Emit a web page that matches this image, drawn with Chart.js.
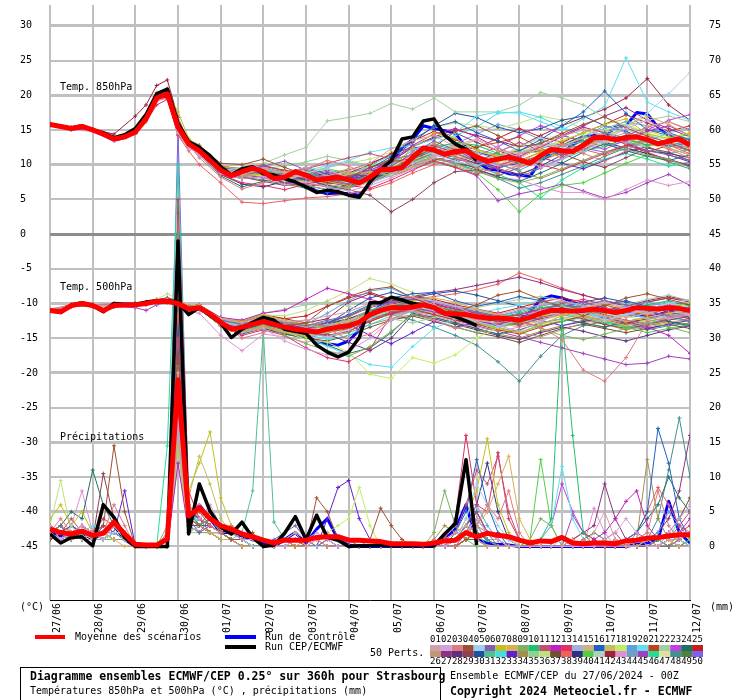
<!DOCTYPE html>
<html>
<head>
<meta charset="utf-8">
<script src="https://cdn.jsdelivr.net/npm/chart.js@4.4.1/dist/chart.umd.min.js"></script>
<style>
  html, body { margin: 0; padding: 0; background: #fff; }
  canvas { display: block; }
</style>
</head>
<body>
<canvas id="chart" width="740" height="700"></canvas>
<script>
// time axis (hours after 27/06/2024 00Z)
const dayLabels = ["27/06","28/06","29/06","30/06","01/07","02/07","03/07","04/07","05/07","06/07","07/07","08/07","09/07","10/07","11/07","12/07"];
const dayHours = [0,24,48,72,96,120,144,168,192,216,240,264,288,312,336,360];
const hours6 = [0,6,12,18,24,30,36,42,48,54,60,66,72,78,84,90,96,102,108,114,120,126,132,138,144,150,156,162,168,174,180,186,192,198,204,210,216,222,228,234,240,246,252,258,264,270,276,282,288,294,300,306,312,318,324,330,336,342,348,354,360];
const memberHours = [0,12,24,36,48,54,60,66,72,78,84,96,108,120,132,144,156,168,180,192,204,216,228,240,252,264,276,288,300,312,324,336,348,360];
const leftTicks = [-45,-40,-35,-30,-25,-20,-15,-10,-5,0,5,10,15,20,25,30];
const rightTicks = [0,5,10,15,20,25,30,35,40,45,50,55,60,65,70,75];

// ensemble mean, control run, operational run (6h steps)
const t850Mean = [15.8,15.5,15.2,15.5,15.0,14.4,13.7,14.0,14.7,16.6,19.6,20.2,15.4,13.0,12.0,10.6,9.2,8.4,9.0,9.5,9.0,8.0,8.2,9.0,8.5,7.8,8.0,8.2,7.8,7.4,8.2,9.3,9.3,9.6,11.0,12.4,12.1,11.5,11.9,12.0,11.1,10.5,10.8,11.1,10.7,10.2,11.3,12.2,12.0,11.9,12.8,13.9,13.9,13.6,13.9,14.0,13.6,13.0,13.4,13.7,12.8];
const t850Oper = [15.8,15.5,15.3,15.6,15.0,14.6,13.9,14.3,15.2,17.2,20.2,20.9,16.0,13.3,12.5,11.3,9.7,8.5,9.4,9.7,8.7,8.5,8.0,7.5,6.8,6.0,6.3,6.1,5.6,5.3,7.5,9.3,10.6,13.7,14.0,16.3,16.6,14.2,13.0,12.2,10.6];
const t850Control = [15.8,15.6,15.2,15.5,15.0,14.3,13.5,13.9,14.8,16.8,19.8,20.4,15.2,13.0,12.2,10.8,9.5,8.6,9.1,9.3,8.4,8.0,7.8,7.3,7.0,6.2,5.8,5.9,5.8,5.6,7.2,8.8,10.2,12.5,13.6,15.6,15.2,14.9,14.5,12.5,10.5,9.4,9.2,8.7,8.5,8.3,10.5,11.6,11.8,12.8,14.0,14.2,14.0,15.4,15.6,17.5,17.3,15.4,14.2,13.6,13.4];
const t500Mean = [-11.0,-11.2,-10.3,-10.0,-10.3,-11.0,-10.3,-10.2,-10.2,-10.0,-9.7,-9.7,-10.0,-10.8,-10.6,-11.5,-12.7,-13.7,-13.4,-13.0,-12.6,-13.0,-13.4,-13.7,-13.9,-14.1,-13.7,-13.4,-13.2,-12.7,-11.6,-11.0,-10.6,-10.6,-10.5,-10.2,-10.6,-11.4,-11.5,-11.6,-11.9,-12.1,-12.1,-12.2,-12.4,-12.0,-11.4,-11.0,-11.0,-11.1,-11.0,-10.8,-11.0,-11.3,-11.0,-10.6,-10.7,-10.8,-10.6,-10.7,-11.0];
const t500Oper = [-11.0,-11.3,-10.2,-9.9,-10.3,-11.2,-10.0,-10.1,-10.1,-9.8,-9.6,-9.6,-9.8,-11.6,-10.6,-11.7,-12.8,-14.9,-13.7,-12.7,-12.0,-12.4,-13.7,-14.0,-14.3,-16.0,-17.0,-17.7,-17.0,-14.9,-9.9,-9.9,-9.1,-9.5,-10.0,-10.2,-10.6,-11.4,-11.9,-12.5,-13.2];
const t500Control = [-11.0,-11.1,-10.4,-10.0,-10.4,-11.0,-10.4,-10.2,-10.2,-9.9,-9.7,-9.6,-10.2,-11.0,-10.8,-11.6,-12.5,-13.5,-13.0,-12.8,-12.2,-12.8,-13.5,-14.2,-14.6,-15.5,-15.8,-16.0,-15.4,-13.8,-11.5,-10.3,-9.8,-10.0,-10.2,-10.4,-11.0,-11.6,-12.2,-12.6,-12.8,-13.0,-13.2,-13.0,-12.6,-11.2,-9.4,-8.9,-9.2,-9.8,-10.4,-11.0,-11.2,-11.0,-11.4,-11.7,-11.8,-11.6,-11.2,-10.8,-11.0];
const precipMean = [2.5,2.0,1.8,2.2,1.6,1.9,3.5,1.8,0.3,0.2,0.2,1.1,24,4.4,5.6,4.0,3.0,2.5,1.8,1.4,0.9,0.5,0.9,0.9,0.9,1.3,1.4,1.4,0.9,0.9,0.8,0.7,0.4,0.4,0.4,0.3,0.5,0.8,0.9,2.0,1.4,1.9,1.6,1.4,0.9,0.5,0.8,0.7,1.3,0.5,0.4,0.5,0.5,0.4,0.8,0.9,1.2,1.3,1.5,1.7,1.7];
const precipOper = [1.8,0.5,1.3,1.4,0.1,6.0,4.2,1.3,0,0,0,0,44,1.8,9.0,5.1,2.8,1.8,3.5,1.3,0,0.2,1.9,4.3,1.0,4.5,1.3,0.9,0,0.1,0.1,0.2,0.1,0.1,0.1,0.1,0.1,1.8,3.3,12.5,0.2];
const precipControl = [2.0,1.5,1.5,2.0,1.0,2.0,3.0,1.0,0,0,0,1.0,30,3.0,6.0,4.0,2.0,2.0,1.5,1.0,0.5,0,1.0,2.0,0.5,2.5,4.0,1.0,0.2,0,0,0,0,0,0,0,0,1.0,2.5,6.0,1.0,0.5,0.3,0.2,0,0,0,0,0,0,0,0,0,0,0,0.3,0.5,1.0,6.5,2.0,0.5];

// the 50 perturbed members
const memberColors = ["#d4a0a8","#d0a0e0","#e07880","#a05030","#a0d0f0","#8060b0","#c0c020","#d8b050","#80b060","#20c070","#c05070","#c020c0","#e03060","#a0b0e0","#d0b080","#2060c0","#c0c060","#c0f060","#60a0e0","#60e0f0","#c04020","#a0d0a0","#c040e0","#207060","#c02020",
  "#c09878","#903080","#603080","#904050","#2050a0","#50c090","#40e0e0","#6020d0","#a09050","#90d090","#c0e080","#705030","#f06060","#303080","#50d040","#b0d0c0","#a02040","#e090d0","#70a0c0","#a040c0","#20e090","#e0e0a0","#409090","#508040","#8060f0"];

const t850Perts = [
  [15.9,15.3,15.2,13.9,14.9,17.2,20.4,21.0,16.5,13.4,12.3,9.5,8.6,9.4,8.8,9.6,8.4,9.1,10.2,12.3,13.5,14.2,12.6,10.8,9.9,11.5,12.7,14.1,15.0,14.2,13.1,15.5,16.2,14.8],
  [15.6,15.0,14.8,13.4,14.4,16.2,19.1,20.0,14.9,12.6,11.4,8.7,8.0,8.3,7.1,7.5,6.8,6.2,7.0,8.1,9.4,11.0,12.8,13.7,12.5,10.9,9.6,10.8,12.4,13.5,15.2,16.4,14.6,12.9],
  [16.0,15.4,15.1,13.8,15.0,16.9,19.9,20.6,15.8,12.9,11.0,8.2,6.5,7.4,8.6,9.4,10.6,9.8,8.4,9.0,11.8,13.0,11.2,9.5,8.8,9.9,11.4,12.8,11.6,10.5,12.0,13.6,12.2,11.0],
  [15.7,15.1,15.0,13.6,14.6,16.4,19.5,20.3,16.0,13.5,12.6,10.2,10.0,10.8,9.6,8.5,7.4,8.2,9.6,10.4,10.9,12.5,14.8,15.6,14.2,12.6,13.0,14.5,15.8,16.9,15.3,14.1,13.2,12.0],
  [15.8,15.2,14.9,13.5,14.5,16.3,19.2,19.8,14.6,12.4,11.8,9.0,9.6,8.8,7.6,8.8,9.4,8.0,7.2,8.6,10.2,11.6,10.5,9.8,11.0,12.6,13.9,12.4,11.8,13.4,15.6,17.4,20.2,23.3],
  [15.9,15.3,15.1,13.8,14.8,16.8,19.8,20.4,15.2,13.2,12.2,9.4,8.8,9.8,10.5,9.2,8.0,7.2,7.9,9.8,11.6,13.4,12.1,10.6,9.4,8.2,9.5,11.0,12.9,14.4,13.2,12.0,11.4,10.6],
  [15.6,15.1,15.0,13.7,14.6,16.5,19.6,20.4,17.6,13.8,12.4,9.8,9.2,8.4,8.0,8.6,7.5,7.0,8.4,9.6,12.4,14.6,13.8,12.0,11.2,10.4,11.8,13.4,14.6,15.8,16.6,14.4,13.8,14.6],
  [15.8,15.2,15.0,13.6,14.7,16.7,19.7,20.0,15.0,12.8,12.0,9.2,8.5,8.6,9.0,8.2,7.8,8.6,9.0,8.4,9.6,11.2,12.4,13.6,12.0,11.6,12.2,11.0,12.5,13.8,15.6,17.0,15.8,14.2],
  [15.7,15.2,15.0,13.8,14.7,16.4,19.3,19.9,15.0,12.7,11.8,8.8,8.2,8.8,7.8,7.0,6.4,6.8,7.6,8.8,10.4,11.0,10.2,9.0,8.0,7.4,8.2,9.4,10.6,11.8,12.2,11.4,10.8,9.6],
  [15.9,15.3,15.1,13.9,14.9,16.9,20.0,20.6,15.6,13.1,12.1,9.0,8.8,9.2,8.6,8.8,8.2,7.6,8.0,9.4,10.8,12.4,13.2,12.8,11.6,10.2,10.8,12.0,13.4,14.6,13.8,12.8,13.6,14.4],
  [15.8,15.2,15.0,13.6,14.6,16.6,19.6,20.3,15.8,13.2,12.3,9.6,9.4,10.0,9.0,9.4,10.2,11.0,11.6,10.8,11.4,12.8,11.6,10.4,11.8,13.2,12.0,11.4,12.2,13.6,14.2,15.4,16.2,15.0],
  [15.8,15.1,14.9,13.6,14.6,16.4,19.4,20.1,15.4,13.0,12.0,9.0,8.4,9.0,8.4,8.0,7.6,8.4,9.2,10.6,12.8,14.4,15.2,14.0,12.4,11.2,12.6,14.0,15.4,14.6,13.4,14.8,15.6,14.2],
  [15.7,15.0,14.9,13.5,14.4,16.2,18.6,19.4,14.4,12.4,11.6,8.6,7.4,7.0,6.4,7.2,7.8,7.0,6.6,7.8,9.2,10.6,9.6,8.6,9.8,11.0,10.0,9.2,10.4,11.6,12.8,11.8,10.6,10.0],
  [15.9,15.4,15.2,13.8,14.9,17.0,20.1,20.6,16.2,13.4,12.4,9.4,9.0,9.6,8.2,8.6,9.6,10.4,9.2,10.0,11.4,11.8,12.2,11.8,10.6,11.6,13.0,12.6,13.4,14.8,15.6,14.4,13.0,12.6],
  [15.8,15.2,15.0,13.7,14.8,16.6,19.5,20.0,14.8,12.6,11.6,8.8,9.2,9.6,8.8,8.0,7.2,6.6,7.4,8.4,9.8,11.4,12.6,11.4,10.2,9.6,10.4,11.8,12.2,13.2,14.0,13.4,12.4,11.4],
  [15.7,15.1,14.9,13.6,14.5,16.5,19.7,20.5,15.5,13.2,12.2,9.6,9.0,8.6,8.8,9.6,8.6,8.0,9.4,11.2,13.6,15.4,16.2,14.6,13.4,12.0,13.6,15.6,17.6,20.6,17.4,15.0,14.6,13.6],
  [15.8,15.3,15.0,13.8,14.7,16.7,19.8,20.2,15.2,12.9,11.9,9.1,8.7,9.4,7.8,7.4,8.2,8.8,8.6,9.2,10.6,11.8,11.2,10.6,11.4,12.2,11.6,12.8,13.8,14.2,13.6,12.6,13.2,12.4],
  [15.8,15.2,15.1,13.7,14.6,16.6,19.4,20.0,14.6,12.8,11.8,9.0,8.6,8.4,8.0,8.4,7.6,7.4,8.0,9.6,11.2,13.2,12.4,11.2,10.4,11.0,12.4,13.6,14.4,15.0,15.8,14.6,13.6,14.0],
  [15.9,15.3,15.1,13.8,14.9,16.8,19.9,20.5,15.6,13.1,12.1,9.3,8.8,9.2,8.4,8.8,7.8,7.2,8.6,10.2,12.0,13.0,12.0,11.0,10.0,9.2,10.6,12.4,14.0,15.6,14.6,13.2,12.6,13.8],
  [15.6,15.1,14.9,13.5,14.5,16.3,19.2,19.9,15.0,12.8,11.8,9.0,8.4,9.0,8.6,9.2,9.8,10.6,11.8,12.4,12.8,13.6,14.6,17.0,17.6,17.4,16.2,15.0,16.6,18.4,25.4,19.0,17.6,16.4],
  [15.8,15.2,15.0,13.7,14.7,16.5,19.4,20.0,15.2,12.8,11.8,8.8,8.0,8.4,7.4,6.8,7.4,8.0,9.6,10.8,9.8,10.6,11.4,12.6,13.2,14.0,12.4,11.0,12.6,14.2,13.0,11.8,12.8,13.4],
  [15.8,15.2,15.0,13.7,14.7,16.6,19.6,20.3,15.5,13.0,12.0,9.4,9.6,10.2,11.4,12.5,16.3,16.8,17.4,18.8,18.0,19.6,17.6,17.6,17.6,18.6,20.4,19.6,18.6,16.8,15.6,16.4,17.0,16.2],
  [15.9,15.3,15.1,13.8,14.8,16.8,19.8,20.4,15.4,13.2,12.2,9.4,8.8,8.2,7.6,8.4,9.0,8.2,7.4,8.6,10.0,11.0,10.4,11.2,12.6,14.2,15.6,14.4,13.0,12.2,13.6,15.0,16.4,17.2],
  [15.7,15.1,14.9,13.5,14.5,16.3,19.3,19.9,14.8,12.6,11.4,8.4,6.8,7.6,8.2,7.8,7.0,6.6,7.8,9.0,10.2,11.6,10.6,9.4,8.2,7.6,8.8,10.2,11.8,13.0,12.0,11.2,10.6,11.4],
  [15.8,15.2,15.0,13.7,14.7,16.6,19.7,20.4,15.6,13.0,12.0,9.2,9.0,9.8,9.2,8.6,8.0,8.8,10.0,11.6,13.4,14.8,13.6,12.4,13.8,15.2,14.0,13.2,14.6,15.8,17.2,16.0,14.8,15.6],
  [15.9,15.3,15.1,13.9,14.8,16.7,19.8,20.3,15.2,12.9,12.0,9.0,8.4,8.8,8.0,7.6,8.6,9.4,8.8,9.8,11.6,12.2,11.6,10.8,10.0,10.6,11.2,12.2,12.8,13.6,14.6,13.8,12.8,12.2],
  [15.8,15.2,15.0,13.6,14.6,16.5,19.5,20.2,15.6,13.2,12.2,9.4,9.2,9.6,8.8,8.2,7.6,7.8,8.6,10.4,12.6,13.8,14.6,13.2,12.0,11.0,12.4,14.2,15.6,17.0,18.2,16.4,15.2,14.0],
  [15.7,15.1,15.0,13.6,14.6,16.4,19.4,20.0,15.0,12.8,11.8,9.0,8.8,9.0,8.4,8.0,7.4,7.0,7.8,9.4,11.0,12.0,11.2,10.2,9.4,8.6,9.8,11.4,12.6,13.8,13.0,12.0,11.6,11.0],
  [15.8,15.2,15.0,13.7,14.7,16.6,19.6,20.2,15.4,13.0,11.8,8.8,8.2,7.6,7.0,7.4,6.8,6.4,5.6,3.2,5.0,7.4,9.0,9.2,8.4,9.6,10.8,11.6,10.4,9.6,11.0,12.4,11.8,10.6],
  [15.8,15.3,15.1,13.8,14.8,16.7,19.7,20.4,15.6,13.2,12.2,9.4,8.6,8.2,7.4,7.0,6.4,7.2,8.8,11.0,13.2,15.6,17.4,16.8,15.4,14.6,15.2,16.4,17.0,15.6,14.8,13.6,12.6,13.2],
  [15.8,15.2,15.0,13.6,14.6,16.5,19.5,20.1,15.2,12.9,11.9,9.1,8.8,8.6,8.0,8.4,8.0,7.6,8.2,9.0,10.0,11.2,11.8,10.4,9.4,8.6,9.6,10.8,12.0,12.6,13.4,12.4,11.6,12.2],
  [15.9,15.3,15.1,13.8,14.8,16.8,19.9,20.6,15.8,13.4,12.4,9.6,9.4,9.8,9.0,8.4,7.8,8.6,9.8,11.4,12.2,13.0,14.2,15.4,17.4,17.6,16.8,15.4,14.2,13.0,12.2,13.4,14.6,15.2],
  [15.7,15.1,14.9,13.5,14.5,16.3,19.2,19.8,14.6,12.6,11.6,8.6,8.0,8.4,8.8,9.4,8.6,8.0,8.8,10.6,12.4,12.8,11.6,10.6,9.6,10.2,11.0,10.2,9.4,10.6,11.8,12.6,11.4,10.4],
  [15.8,15.2,15.0,13.7,14.7,16.6,19.5,20.1,15.0,12.8,11.8,9.0,8.6,8.8,8.2,7.8,7.2,7.6,8.4,9.2,10.4,11.6,12.4,11.4,10.2,9.0,8.0,9.2,10.6,11.8,12.8,13.6,12.4,11.4],
  [15.8,15.2,15.0,13.7,14.8,16.7,19.8,20.3,15.4,13.0,12.0,9.2,8.8,9.4,9.8,10.4,11.2,10.6,9.8,10.4,11.6,12.6,13.0,12.2,11.4,10.8,9.8,10.8,12.0,13.0,14.0,13.2,12.6,13.0],
  [15.9,15.3,15.1,13.8,14.9,16.9,20.1,20.7,16.4,13.6,12.6,9.6,9.2,8.8,8.4,9.0,9.6,10.2,10.8,11.8,13.6,15.4,16.0,15.6,15.2,16.0,17.0,16.4,15.2,14.6,15.4,14.8,14.0,13.4],
  [15.8,15.2,15.0,13.6,14.6,16.4,19.4,20.0,15.6,13.6,12.8,9.8,9.4,9.0,8.6,8.0,7.4,8.2,9.0,10.0,11.4,11.0,10.2,9.6,10.8,11.6,12.0,12.6,13.4,14.2,13.6,12.8,13.0,12.4],
  [15.8,15.2,15.0,13.7,14.6,16.4,19.2,19.6,14.2,12.0,10.0,7.4,4.6,4.4,4.8,5.2,5.4,5.8,6.4,7.4,8.8,10.0,10.8,10.2,9.4,10.6,11.8,13.0,12.2,11.4,12.6,13.8,12.8,11.6],
  [15.7,15.1,15.0,13.6,14.5,16.4,19.4,20.0,14.8,12.6,11.6,8.6,7.2,6.8,7.6,8.2,8.8,8.2,7.8,9.0,10.6,11.6,12.6,11.8,11.0,10.2,11.4,12.8,14.2,13.2,12.4,11.6,10.8,9.8],
  [15.8,15.2,15.0,13.7,14.7,16.6,19.6,20.2,15.2,12.9,11.9,9.0,8.4,8.6,8.2,9.0,9.4,8.8,8.0,8.6,9.6,10.4,9.8,8.8,6.4,3.2,5.8,7.0,7.4,8.8,10.2,11.4,10.6,9.8],
  [15.8,15.2,15.0,13.7,14.7,16.6,19.7,20.3,15.4,13.0,12.0,9.2,9.0,9.2,8.8,8.6,8.2,8.6,9.2,10.0,11.0,12.2,12.6,11.8,11.2,11.8,12.6,13.2,13.8,14.4,15.0,14.2,13.6,13.0],
  [15.8,15.3,15.1,14.4,17.0,18.6,21.4,22.2,16.8,13.2,12.2,9.4,9.0,9.4,8.6,8.2,8.6,9.2,10.2,11.4,12.6,14.0,15.0,14.2,13.4,12.6,14.2,15.6,16.8,18.0,19.6,22.4,18.6,16.4],
  [15.7,15.1,14.9,13.5,14.5,16.3,19.3,19.9,14.8,12.6,11.6,8.8,8.4,8.0,7.6,7.2,6.8,7.4,8.2,9.0,10.2,11.0,10.0,9.0,8.2,7.8,6.8,6.0,6.0,5.0,6.4,7.8,7.0,7.6],
  [15.8,15.2,15.0,13.7,14.7,16.6,19.6,20.2,15.4,13.0,12.0,9.2,8.6,8.2,7.8,8.2,7.6,7.0,7.6,8.8,10.4,11.8,13.0,14.4,15.8,15.0,13.6,12.6,13.8,15.2,16.2,15.6,14.4,13.6],
  [15.8,15.2,15.0,13.7,14.7,16.5,19.5,20.1,15.2,12.8,11.8,9.0,8.6,9.0,8.4,7.8,7.0,6.8,7.6,8.4,9.4,10.4,9.6,8.4,4.8,5.8,6.4,7.2,6.2,5.2,6.0,7.4,8.6,7.0],
  [15.9,15.3,15.1,13.8,14.9,16.8,19.8,20.4,15.6,13.2,12.2,9.4,9.0,9.4,9.0,8.6,8.2,8.8,9.6,10.6,11.4,12.0,11.0,9.8,8.6,7.4,5.2,7.8,9.6,10.8,11.6,10.8,9.8,10.4],
  [15.8,15.2,15.0,13.6,14.6,16.4,19.4,20.0,15.0,12.8,11.8,9.0,8.8,9.2,8.6,8.0,7.8,8.4,9.0,9.8,11.0,12.4,13.2,12.6,12.0,12.8,13.6,14.4,15.2,14.6,13.8,13.0,12.2,11.6],
  [15.8,15.2,15.0,13.7,14.7,16.6,19.6,20.2,15.4,13.0,11.8,8.8,8.2,7.8,7.2,6.6,6.0,6.8,7.6,8.6,9.8,10.8,10.2,9.2,8.0,6.6,7.4,8.6,9.8,11.2,12.4,11.6,10.4,9.4],
  [15.8,15.3,15.1,13.8,14.8,16.7,19.8,20.4,15.8,13.4,12.4,9.6,9.4,9.0,8.2,8.6,9.2,8.6,8.4,9.4,10.8,12.0,12.8,12.2,11.4,12.0,13.2,14.2,13.4,12.6,13.8,15.0,14.2,13.4],
  [15.7,15.1,14.9,13.5,14.5,16.3,19.3,19.9,14.8,12.6,11.6,8.8,8.4,8.8,8.0,7.6,7.2,7.8,8.6,9.6,10.6,11.4,10.8,10.2,10.8,11.6,12.4,13.0,12.4,11.8,12.6,13.4,12.8,12.0]
];

const t500Perts = [
  [-11.0,-10.2,-10.4,-10.2,-10.0,-9.8,-9.6,-9.6,-9.8,-10.6,-10.4,-12.2,-12.8,-11.8,-12.6,-12.4,-11.8,-11.2,-10.0,-9.2,-9.0,-10.2,-11.6,-12.4,-11.6,-10.8,-10.2,-9.6,-10.4,-11.2,-12.0,-11.4,-10.6,-11.8],
  [-11.2,-10.4,-10.2,-10.4,-10.4,-10.2,-9.8,-9.8,-10.2,-11.0,-10.8,-13.0,-14.2,-13.6,-15.4,-16.6,-17.4,-16.8,-15.0,-12.4,-11.0,-9.8,-10.4,-11.8,-13.2,-14.0,-12.6,-11.2,-10.6,-9.8,-10.6,-11.4,-12.2,-11.6],
  [-10.8,-10.2,-10.2,-10.0,-10.0,-9.8,-9.6,-9.4,-9.8,-10.6,-10.4,-12.6,-15.0,-14.2,-13.0,-12.4,-13.6,-15.2,-14.4,-12.2,-11.0,-12.4,-13.6,-12.8,-11.4,-12.6,-13.4,-15.2,-19.6,-21.2,-17.8,-12.6,-12.0,-11.4],
  [-11.0,-10.4,-10.4,-10.2,-10.2,-10.0,-9.8,-9.8,-10.2,-11.2,-10.8,-12.8,-13.6,-12.6,-13.2,-12.8,-10.4,-9.0,-8.0,-7.6,-9.2,-10.4,-11.2,-10.2,-8.8,-8.2,-9.4,-10.6,-11.8,-10.4,-9.2,-8.6,-9.4,-10.2],
  [-11.2,-10.4,-10.4,-10.4,-10.2,-10.0,-9.8,-9.8,-10.0,-10.8,-10.6,-12.6,-13.2,-12.4,-13.6,-14.4,-14.8,-13.8,-12.2,-10.8,-10.4,-11.0,-11.8,-12.6,-13.4,-12.2,-11.0,-10.4,-11.2,-12.4,-11.6,-10.8,-10.0,-9.4],
  [-11.0,-10.2,-10.2,-10.2,-10.0,-9.8,-9.6,-9.6,-9.8,-10.6,-10.4,-12.4,-13.0,-12.2,-12.8,-13.2,-12.4,-11.8,-10.6,-9.8,-9.4,-9.8,-10.6,-11.2,-11.8,-12.4,-11.6,-11.0,-10.2,-9.6,-10.2,-11.0,-11.8,-12.6],
  [-11.0,-10.3,-10.4,-10.4,-10.2,-10.0,-9.6,-9.4,-9.6,-10.4,-10.2,-12.2,-12.6,-11.6,-12.4,-13.0,-13.6,-12.0,-10.4,-9.4,-9.6,-10.8,-12.0,-12.8,-13.6,-14.2,-13.0,-11.8,-10.6,-10.0,-10.8,-11.6,-10.8,-9.8],
  [-11.0,-10.4,-10.2,-10.2,-10.2,-10.0,-9.8,-9.8,-10.0,-10.8,-10.8,-13.0,-14.0,-13.4,-14.2,-14.6,-13.8,-12.6,-11.4,-10.2,-9.6,-9.2,-9.8,-10.8,-11.6,-12.2,-11.2,-10.4,-11.0,-11.8,-12.6,-12.0,-11.4,-10.8],
  [-11.2,-10.4,-10.4,-10.4,-10.4,-10.2,-9.8,-9.8,-10.2,-11.0,-10.8,-13.2,-14.2,-13.0,-14.6,-15.8,-16.8,-17.6,-16.2,-14.0,-11.6,-12.4,-13.4,-14.2,-13.4,-12.6,-13.6,-14.6,-15.2,-14.4,-13.6,-12.8,-13.4,-14.2],
  [-11.0,-10.2,-10.2,-10.2,-10.0,-9.8,-9.6,-9.6,-9.8,-10.6,-10.4,-12.4,-13.2,-12.4,-12.6,-13.0,-13.4,-12.8,-11.0,-10.2,-10.0,-10.4,-11.0,-11.6,-12.0,-11.4,-10.6,-10.2,-10.8,-11.4,-10.8,-10.2,-9.6,-10.4],
  [-11.0,-10.3,-10.3,-10.2,-10.1,-9.9,-9.7,-9.7,-10.0,-10.8,-10.6,-12.8,-13.6,-12.8,-13.6,-14.2,-14.6,-14.0,-12.4,-11.2,-10.8,-10.6,-11.2,-11.8,-12.4,-13.2,-12.0,-11.4,-10.8,-11.6,-12.4,-13.0,-12.2,-11.6],
  [-11.0,-10.2,-10.2,-10.2,-10.0,-9.8,-9.6,-9.4,-9.6,-10.4,-10.2,-12.0,-12.4,-11.4,-11.0,-9.4,-7.8,-8.6,-9.4,-10.2,-10.6,-11.2,-12.0,-12.6,-13.0,-12.2,-11.0,-10.2,-10.8,-11.8,-12.6,-13.4,-14.6,-17.2],
  [-11.2,-10.4,-10.4,-10.4,-10.2,-10.0,-9.8,-9.8,-10.2,-11.0,-10.8,-13.2,-14.6,-13.8,-14.6,-16.4,-17.8,-18.4,-16.6,-11.6,-10.6,-10.2,-10.8,-11.4,-12.0,-11.6,-10.8,-10.0,-9.4,-10.2,-11.0,-11.8,-11.2,-10.6],
  [-11.0,-10.3,-10.3,-10.3,-10.1,-9.9,-9.7,-9.7,-10.0,-10.8,-10.6,-12.6,-13.4,-12.6,-13.4,-13.8,-13.2,-12.4,-11.0,-9.8,-9.2,-9.6,-10.4,-11.0,-11.6,-12.2,-12.8,-12.2,-11.4,-10.8,-11.4,-12.2,-11.8,-11.2],
  [-11.0,-10.2,-10.2,-10.2,-10.0,-9.8,-9.6,-9.6,-9.8,-10.6,-10.4,-12.4,-13.0,-12.0,-12.8,-13.4,-13.0,-12.6,-11.8,-11.0,-10.4,-10.8,-11.8,-12.4,-12.8,-13.4,-12.4,-11.6,-12.0,-12.6,-11.8,-11.0,-10.6,-11.2],
  [-11.0,-10.4,-10.4,-10.2,-10.2,-10.0,-9.8,-9.8,-10.0,-10.8,-10.6,-12.8,-13.8,-13.0,-13.8,-14.0,-12.8,-11.6,-10.2,-9.2,-8.6,-8.4,-9.6,-10.4,-9.8,-9.0,-9.6,-10.4,-11.0,-10.2,-9.6,-10.4,-11.2,-12.0],
  [-11.2,-10.4,-10.4,-10.4,-10.2,-10.0,-9.8,-9.8,-10.2,-11.0,-10.8,-13.0,-13.8,-13.2,-14.0,-14.8,-14.2,-13.0,-11.6,-10.8,-10.4,-10.8,-11.6,-12.4,-13.0,-12.6,-11.8,-11.2,-11.8,-12.4,-13.2,-12.4,-11.6,-11.0],
  [-11.0,-10.3,-10.3,-10.2,-10.1,-9.9,-9.7,-9.7,-10.0,-10.8,-10.6,-12.8,-13.6,-13.0,-14.0,-15.2,-15.6,-17.0,-20.2,-20.8,-17.8,-18.6,-17.4,-15.0,-13.4,-12.2,-13.0,-12.4,-11.6,-11.0,-11.8,-12.6,-12.0,-11.4],
  [-11.0,-10.2,-10.2,-10.2,-10.0,-9.8,-9.6,-9.6,-9.8,-10.6,-10.4,-12.4,-12.8,-11.8,-12.6,-13.0,-11.4,-9.6,-8.2,-7.8,-9.2,-9.8,-10.4,-11.2,-11.8,-11.0,-10.2,-9.6,-10.4,-11.2,-10.4,-9.8,-10.6,-11.4],
  [-11.0,-10.4,-10.4,-10.4,-10.2,-10.0,-9.8,-9.8,-10.0,-10.8,-10.6,-12.8,-13.4,-12.6,-13.6,-14.8,-16.2,-17.4,-18.8,-19.2,-16.2,-13.6,-12.2,-11.4,-10.8,-10.2,-9.6,-10.4,-11.2,-12.0,-11.2,-10.4,-9.8,-10.6],
  [-11.2,-10.4,-10.4,-10.4,-10.2,-10.0,-9.8,-9.8,-10.2,-11.0,-10.8,-13.0,-13.8,-13.2,-14.0,-14.6,-14.2,-13.6,-12.6,-11.4,-10.8,-11.6,-12.4,-13.0,-13.8,-14.4,-13.4,-12.4,-11.8,-12.4,-13.0,-12.2,-11.6,-12.2],
  [-11.0,-10.2,-10.2,-10.1,-10.0,-9.8,-9.6,-9.6,-9.8,-10.6,-10.4,-12.2,-12.4,-11.4,-10.8,-10.2,-9.8,-10.4,-11.2,-12.2,-12.8,-12.0,-11.2,-10.6,-10.0,-9.4,-9.0,-9.6,-10.2,-10.8,-10.2,-9.4,-8.8,-9.6],
  [-11.0,-10.3,-10.3,-10.3,-10.1,-9.9,-9.7,-9.7,-10.0,-10.8,-10.6,-12.6,-13.2,-12.4,-13.2,-13.6,-13.2,-12.6,-11.4,-10.4,-9.8,-10.2,-10.8,-11.6,-12.2,-11.6,-11.0,-10.4,-9.8,-10.6,-11.4,-10.8,-10.2,-10.8],
  [-11.2,-10.4,-10.4,-10.4,-10.2,-10.0,-9.8,-9.8,-10.2,-11.0,-10.8,-13.2,-14.4,-13.6,-14.4,-15.0,-16.0,-17.2,-16.4,-14.2,-11.4,-12.0,-12.8,-13.6,-14.4,-13.8,-12.8,-12.2,-12.8,-13.4,-12.6,-12.0,-12.6,-13.2],
  [-11.0,-10.2,-10.2,-10.2,-10.0,-9.8,-9.6,-9.4,-9.6,-10.4,-10.2,-12.2,-12.6,-11.8,-12.2,-11.8,-10.4,-9.2,-8.4,-9.4,-9.0,-9.4,-10.2,-10.8,-11.4,-10.6,-9.8,-9.2,-9.8,-10.6,-11.2,-10.4,-9.8,-10.2],
  [-11.0,-10.3,-10.4,-10.3,-10.2,-10.0,-9.7,-9.7,-10.0,-10.8,-10.6,-12.8,-13.6,-12.8,-13.4,-14.0,-13.6,-13.0,-12.2,-11.6,-11.0,-11.4,-12.2,-12.8,-13.4,-14.2,-14.8,-13.8,-12.8,-12.2,-12.8,-13.4,-12.8,-12.2],
  [-11.0,-10.2,-10.2,-10.2,-10.0,-9.8,-9.6,-9.6,-9.8,-10.6,-10.4,-12.4,-13.0,-12.2,-13.0,-13.4,-12.8,-11.8,-10.4,-9.6,-9.0,-8.4,-8.0,-7.4,-6.8,-6.2,-7.0,-8.0,-8.8,-9.6,-10.4,-9.8,-9.2,-9.8],
  [-11.2,-10.4,-10.4,-10.4,-10.2,-10.0,-9.8,-9.8,-10.2,-11.0,-10.8,-13.0,-14.0,-13.4,-14.2,-14.8,-14.4,-15.6,-16.8,-15.0,-11.6,-12.2,-13.0,-13.8,-14.6,-15.2,-14.2,-13.4,-14.0,-14.8,-15.4,-14.6,-13.8,-13.2],
  [-11.0,-10.3,-10.3,-10.3,-10.1,-9.9,-9.7,-9.7,-10.0,-10.8,-10.6,-12.6,-13.4,-12.8,-13.6,-14.2,-14.6,-14.0,-12.6,-11.4,-10.6,-10.8,-11.4,-12.0,-12.6,-13.0,-12.2,-11.6,-12.2,-13.0,-13.6,-13.0,-12.4,-11.8],
  [-11.0,-10.2,-10.2,-10.2,-10.0,-9.8,-9.6,-9.6,-9.8,-10.6,-10.4,-12.6,-13.2,-12.4,-13.2,-13.6,-13.0,-11.0,-9.2,-8.4,-9.2,-8.6,-8.2,-8.8,-9.6,-10.4,-11.2,-10.6,-9.8,-9.2,-9.8,-10.6,-11.2,-10.6],
  [-11.0,-10.4,-10.4,-10.2,-10.2,-10.0,-9.8,-9.8,-10.0,-10.8,-10.6,-12.8,-13.8,-13.2,-14.0,-14.6,-14.2,-13.4,-12.2,-11.2,-10.8,-11.2,-12.0,-12.8,-13.6,-14.2,-13.2,-12.6,-12.0,-12.6,-13.2,-12.6,-12.0,-12.4],
  [-11.2,-10.4,-10.4,-10.4,-10.2,-10.0,-9.8,-9.8,-10.2,-11.0,-10.8,-13.0,-13.6,-12.8,-13.6,-14.4,-15.2,-14.6,-13.0,-11.8,-11.2,-11.0,-11.6,-12.4,-13.0,-12.4,-11.4,-10.6,-10.0,-10.6,-11.4,-12.0,-11.4,-10.8],
  [-11.0,-10.3,-10.3,-10.3,-10.1,-9.9,-9.7,-9.7,-10.0,-10.8,-10.6,-12.6,-13.2,-12.4,-13.0,-13.6,-13.4,-13.0,-14.6,-15.8,-14.2,-12.6,-13.4,-12.8,-12.2,-11.6,-12.4,-13.2,-12.6,-12.0,-12.8,-13.6,-13.0,-12.4],
  [-11.0,-10.2,-10.2,-10.2,-10.0,-9.8,-9.6,-9.6,-9.8,-10.6,-10.4,-12.6,-13.4,-12.6,-13.4,-14.2,-14.8,-14.2,-13.0,-12.2,-11.6,-12.0,-12.8,-13.6,-14.4,-15.0,-14.0,-13.2,-12.4,-13.0,-13.8,-13.2,-12.6,-13.0],
  [-11.0,-10.4,-10.4,-10.4,-10.2,-10.0,-9.8,-9.8,-10.0,-10.8,-10.6,-12.8,-13.4,-12.6,-13.4,-14.0,-13.6,-12.8,-11.6,-10.8,-10.2,-10.6,-11.4,-12.2,-12.8,-12.2,-11.6,-11.0,-11.6,-12.2,-11.6,-11.0,-10.6,-11.0],
  [-11.0,-10.2,-10.2,-10.2,-10.0,-9.8,-9.4,-8.6,-9.4,-10.4,-10.2,-12.2,-12.8,-11.6,-11.8,-11.0,-9.6,-8.2,-6.4,-7.2,-8.4,-9.6,-10.4,-11.0,-11.6,-12.2,-11.4,-10.6,-10.0,-9.6,-10.2,-10.8,-10.4,-10.0],
  [-11.2,-10.4,-10.4,-10.4,-10.2,-10.0,-9.8,-9.8,-10.2,-11.0,-10.8,-13.2,-14.2,-13.6,-14.4,-15.0,-15.4,-14.6,-13.4,-12.4,-11.8,-12.6,-13.4,-14.2,-14.8,-15.6,-14.6,-13.6,-13.0,-13.6,-14.2,-13.6,-13.0,-13.6],
  [-11.0,-10.3,-10.3,-10.3,-10.1,-9.9,-9.7,-9.7,-10.0,-10.8,-10.6,-12.6,-13.2,-12.4,-13.2,-13.8,-13.2,-12.4,-11.0,-10.0,-9.4,-9.0,-8.6,-8.0,-7.2,-5.6,-6.6,-7.8,-8.8,-9.6,-10.2,-9.8,-9.2,-9.6],
  [-11.0,-10.2,-10.2,-10.2,-10.0,-9.8,-9.6,-9.6,-9.8,-10.6,-10.4,-12.4,-13.0,-12.2,-13.0,-13.4,-13.0,-12.2,-11.2,-10.6,-10.2,-10.6,-11.4,-12.0,-12.6,-12.0,-11.2,-10.6,-11.2,-12.0,-12.8,-12.2,-11.6,-11.2],
  [-11.2,-10.4,-10.4,-10.4,-10.2,-10.0,-9.8,-9.8,-10.2,-11.0,-10.8,-13.0,-13.8,-13.0,-13.8,-14.4,-14.0,-13.2,-12.0,-11.0,-10.6,-11.0,-11.8,-12.6,-13.2,-12.6,-11.8,-11.2,-11.8,-12.6,-13.4,-14.2,-13.6,-13.0],
  [-11.0,-10.3,-10.3,-10.3,-10.1,-9.9,-9.7,-9.7,-10.0,-10.8,-10.6,-12.6,-13.2,-12.4,-13.2,-13.6,-13.0,-12.4,-11.2,-10.4,-10.0,-10.4,-11.0,-11.6,-12.2,-11.8,-11.0,-10.4,-10.8,-11.4,-12.0,-11.4,-10.8,-11.2],
  [-11.0,-10.2,-10.2,-10.2,-10.0,-9.8,-9.4,-9.2,-9.6,-10.4,-10.2,-12.2,-12.6,-11.6,-12.2,-12.8,-12.2,-9.8,-8.6,-9.6,-9.4,-10.0,-10.8,-11.4,-12.0,-12.6,-13.4,-12.6,-11.8,-11.0,-10.4,-9.6,-9.0,-9.6],
  [-11.0,-10.4,-10.4,-10.4,-10.2,-10.0,-9.8,-9.8,-10.2,-11.2,-11.4,-14.6,-16.8,-14.4,-14.8,-15.6,-14.8,-13.6,-12.4,-11.6,-11.2,-11.8,-12.6,-13.4,-14.0,-13.4,-12.8,-12.2,-12.8,-13.4,-12.8,-12.2,-11.6,-12.2],
  [-11.0,-10.2,-10.2,-10.2,-10.0,-9.8,-9.6,-9.6,-9.8,-10.6,-10.4,-12.4,-13.0,-12.2,-12.8,-13.2,-12.6,-11.8,-10.4,-9.6,-9.2,-9.8,-10.6,-11.2,-11.8,-11.2,-10.4,-9.8,-10.4,-11.0,-11.6,-11.0,-10.4,-10.8],
  [-11.0,-10.3,-10.3,-10.4,-10.6,-11.0,-10.2,-9.8,-10.0,-10.8,-10.6,-12.8,-13.6,-13.0,-13.8,-14.4,-14.0,-13.4,-12.2,-11.4,-11.0,-11.6,-12.4,-13.2,-14.0,-14.8,-15.6,-16.4,-17.2,-18.0,-18.8,-18.6,-17.6,-18.0],
  [-11.0,-10.4,-10.4,-10.2,-10.2,-10.0,-9.8,-9.8,-10.0,-10.8,-10.6,-12.8,-13.6,-12.8,-13.6,-14.2,-13.8,-13.2,-11.8,-11.0,-10.6,-11.2,-12.0,-12.6,-13.4,-12.8,-12.0,-11.4,-12.0,-12.8,-13.4,-12.8,-12.2,-12.6],
  [-11.2,-10.4,-10.4,-10.4,-10.2,-10.0,-9.8,-9.8,-10.2,-11.0,-10.8,-13.0,-13.8,-13.2,-14.0,-14.6,-14.2,-13.6,-12.4,-11.6,-11.2,-11.6,-12.2,-12.8,-13.4,-13.0,-12.4,-11.8,-12.4,-13.0,-13.6,-13.0,-12.6,-13.2],
  [-11.0,-10.3,-10.3,-10.3,-10.1,-9.9,-9.7,-9.7,-10.0,-10.8,-10.6,-12.6,-13.4,-12.6,-13.4,-14.0,-13.6,-13.0,-12.0,-11.6,-12.4,-13.4,-14.6,-16.0,-18.4,-21.2,-17.6,-14.6,-13.2,-12.6,-13.2,-13.8,-13.2,-12.8],
  [-11.0,-10.2,-10.2,-10.2,-10.0,-9.8,-9.6,-9.6,-9.8,-10.6,-10.4,-12.4,-13.0,-12.2,-12.8,-13.2,-12.8,-12.2,-11.0,-10.2,-9.8,-10.2,-10.8,-11.4,-12.0,-11.6,-10.8,-10.2,-10.6,-11.2,-11.8,-11.2,-10.6,-11.0],
  [-11.0,-10.4,-10.4,-10.4,-10.2,-10.0,-9.8,-9.8,-10.0,-10.8,-10.6,-12.8,-13.4,-12.8,-13.6,-14.2,-13.8,-13.0,-11.8,-10.6,-10.0,-10.4,-11.2,-12.0,-12.6,-12.2,-11.6,-11.0,-11.4,-12.2,-12.8,-12.2,-11.6,-12.0]
];

const precipPerts = [
  [3,2,1,2,1,2,4,1,0,0,0,1,25,5,6,4,3,2,1,1,0,0,1,2,0,1,2,1,0,0,0,0,0,0,0,0,0,1,2,3,1,0,0,0,0,0,0,0,0,1,0,2,5,1,0,0,1,0,1,0,0],
  [3,1,2,3,2,1,3,2,0,0,0,0,18,3,4,6,3,2,2,1,0,0,0,1,1,2,1,0,0,0,1,0,0,0,0,0,0,0,1,2,4,2,1,0,0,0,0,0,0,0,0,0,1,2,4,2,0,0,2,4,6],
  [2,4,2,3,1,2,6,3,0,0,0,2,35,6,4,3,2,3,2,1,0,0,1,0,0,1,0,0,0,0,0,0,0,0,0,0,1,0,0,2,3,6,4,8,2,0,0,0,0,0,1,0,0,0,0,1,2,8,3,1,2],
  [1,2,1,2,2,3,14.5,5,0,0,0,0,28,4,3,5,2,1,1,2,0,0,1,1,0,7,5,1,1,0,1,5.5,3,1,0,0,0,0,0,1,1,0,0,0,0,0,0,0,0,0,0,0,0,1,0,0,0,1,2,4,7],
  [2,1,3,1,2,1,2,2,0,0,0,1,22,2,3,5,2,1,1,0,0,0,0,1,0,0,0,0,0,0,0,0,0,0,0,0,0,0,1,4,9,6,3,1,0,0,0,0,1,0,0,0,0,0,0,0,0,1,2,1,0],
  [2,3,1,2,1,3,2,2,0,0,0,2,40,4,2,4,3,2,1,1,0,1,2,3,1,0,1,0,0,0,0,0,0,0,0,0,0,0,0,2,5,2,0,0,0,0,0,0,0,0,0,0,0,0,1,2,1,0,0,1,0],
  [4,6,3,5,2,2,3,1,0,0,0,0,20,8,12,16.5,7,3,2,1,0,0,0,0,1,1,0,0,0,0,0,0,0,0,0,0,0,0,1,4,8,15.5,6,2,0,0,0,0,0,0,0,0,0,0,0,0,1,0,0,2,1],
  [2,1,2,1,1,2,1,0,0,0,0,1,15,2,3,2,1,1,0,0,0,0,0,0,0,0,0,0,0,0,0,0,0,0,0,0,0,0,0,1,3,5,9,13,4,1,0,0,0,0,0,0,0,0,0,0,0,0,1,0,0],
  [1,2,1,2,1,1,2,1,0,0,0,3,26,3,2,2,1,1,1,0,0,0,0,0,0,0,0,0,0,0,0,0,0,0,0,0,2,8,3,1,0,0,0,0,0,1,4,3,0,0,0,0,0,0,0,0,0,0,0,0,0],
  [2,3,1,2,1,2,3,1,0,0,0,1,45,5,3,4,2,1,1,0,0,0,0,0,0,0,0,0,0,0,0,0,0,0,0,0,0,0,0,1,2,1,0,0,0,0,1,4,33,16,2,0,0,0,0,0,0,1,0,0,1],
  [3,2,4,2,1,2,3,2,0,0,0,0,30,6,4,3,2,2,1,1,0,0,1,0,0,0,1,0,0,0,0,0,0,0,0,0,0,1,2,6,11,9,13,5,1,0,0,0,0,0,0,0,1,2,0,0,0,0,1,3,5],
  [2,1,2,1,2,1,2,1,0,0,0,0,12,2,3,2,1,1,0,0,0,0,0,0,0,0,0,0,0,0,0,0,0,0,0,0,0,0,0,1,2,1,0,0,0,0,0,0,0,0,0,1,2,4,6.5,8,3,1,0,2,4],
  [3,2,2,3,2,4,3,2,0,0,0,1,50,8,4,3,2,1,1,0,0,0,0,0,0,0,0,0,0,0,0,0,0,0,0,0,0,1,4,16,6,5,13.5,4,1,0,0,0,0,0,0,0,0,0,0,0,1,0,0,2,3],
  [1,2,1,2,1,2,2,1,0,0,0,0,16,3,4,5,3,2,1,0,0,0,1,1,0,0,0,0,0,0,0,0,0,0,0,0,0,0,1,2,3,1,0,0,0,0,0,0,0,0,0,0,0,0,1,0,0,0,1,1,0],
  [2,3,2,1,2,1,2,1,0,0,0,1,24,4,3,2,2,1,0,0,0,0,0,0,1,0,0,0,0,0,0,0,0,0,0,0,0,0,0,1,2,1,1,0,0,0,0,0,0,0,0,0,0,0,0,1,2,1,0,0,0],
  [1,2,3,2,1,2,2,1,0,0,0,0,32,5,4,3,2,1,1,0,0,0,0,0,0,0,0,0,0,0,0,0,0,0,0,0,0,0,2,5,12.5,6,2,0,0,0,0,0,0,0,0,0,0,0,1,2,5,17,12,4,1],
  [2,1,2,3,1,2,3,1,0,0,0,2,22,7,13,9,4,2,1,1,0,0,0,0,0,0,0,0,0,0,0,0,0,0,0,0,0,1,2,3,2,1,0,0,0,0,0,0,0,0,0,0,0,0,0,0,0,0,1,0,0],
  [3,2,1,2,2,1,3,2,0,0,0,0,38,4,3,2,2,1,0,0,0,0,1,2,1,1,2,3,4,8.5,3,0,0,0,0,0,0,0,0,2,4,2,1,0,0,0,0,0,0,0,0,0,1,0,0,0,0,0,0,1,0],
  [2,1,2,1,2,2,1,1,0,0,0,1,20,3,4,3,2,1,0,0,0,0,0,0,0,0,0,0,0,0,0,0,0,0,0,0,0,0,1,3,6,3,1,0,0,0,0,0,0,0,0,0,0,0,0,0,1,2,5,3,1],
  [1,2,1,2,3,2,4,2,0,0,0,0,42,3,4,3,2,1,1,0,0,0,0,0,0,0,0,0,0,0,0,0,0,0,0,0,0,0,1,2,3,1,0,0,0,0,1,3,11.5,4,1,0,0,0,0,0,0,0,0,1,2],
  [2,3,2,1,2,1,2,1,0,0,0,1,26,4,5,3,2,1,1,0,0,0,0,1,0,0,0,0,0,0,0,0,0,0,0,0,0,0,0,1,2,1,0,0,0,0,0,0,0,1,2,1,0,0,0,0,0,0,0,0,1],
  [2,1,1,2,1,2,1,1,0,0,0,0,14,2,2,2,1,1,0,0,0,0,0,0,0,0,0,0,0,0,0,0,0,0,0,0,0,0,0,1,1,0,0,0,0,0,0,0,0,0,0,0,0,0,0,0,0,0,0,1,0],
  [1,2,1,2,1,2,2,1,0,0,0,0,24,3,2,3,2,1,1,0,0,0,0,0,0,0,0,0,0,0,0,0,0,0,0,0,0,0,0,1,2,1,0,0,0,0,1,3,9,5,2,1,0,0,0,0,0,0,0,0,0],
  [2,3,5,4,11,6,3,2,0,0,0,0,30,4,3,2,1,1,0,0,0,0,0,0,0,0,0,0,0,0,0,0,0,0,0,0,0,0,1,2,3,1,0,0,0,0,0,0,0,0,0,0,0,0,1,2,4,6,10,7,5],
  [3,2,3,2,1,2,3,1,0,0,0,1,34,5,4,3,2,2,1,1,0,0,0,0,0,0,0,0,0,0,0,0,0,0,0,0,0,0,1,3,5,2,1,0,0,0,0,0,0,0,0,0,0,0,0,0,0,1,2,1,0],
  [2,1,2,1,1,2,1,1,0,0,0,0,18,3,4,3,2,1,0,0,0,0,0,0,0,0,0,0,0,0,0,0,0,0,0,0,0,0,0,1,2,1,0,0,0,0,0,0,0,0,0,0,0,0,0,0,0,1,0,0,0],
  [1,2,1,2,1,3,2,1,0,0,0,0,28,4,3,2,2,1,0,0,0,0,0,0,0,0,0,0,0,0,0,0,0,0,0,0,0,0,0,1,2,1,0,0,0,0,0,0,0,1,2,3,9,4,1,0,1,2,4,8,16],
  [2,1,2,1,2,2,1,1,0,0,0,0,20,3,3,2,1,1,1,0,0,0,0,0,0,0,0,0,0,0,0,0,0,0,0,0,0,0,0,1,2,1,0,0,0,0,0,0,0,0,0,0,0,0,0,0,0,0,1,0,0],
  [3,2,3,2,1,10.5,4,2,0,0,0,1,36,5,3,4,2,1,1,0,0,0,1,0,0,0,0,0,0,0,0,0,0,0,0,0,0,0,1,3,5,2,1,0,0,0,0,0,0,0,0,0,0,0,0,0,0,0,0,1,0],
  [2,1,2,1,1,2,2,1,0,0,0,0,26,4,3,3,2,1,0,0,0,0,0,0,0,0,0,0,0,0,0,0,0,0,0,0,0,0,1,2,4,2,1,0,0,0,0,0,0,0,0,0,0,0,0,0,0,1,2,1,0],
  [2,3,1,2,1,2,3,1,0,0,0,1,48,4,3,3,2,1,2,8,31,3.5,1,0,0,0,0,0,0,0,0,0,0,0,0,0,0,0,0,1,2,1,0,0,0,0,0,0,0,0,0,0,0,0,0,0,0,0,0,0,1],
  [1,2,1,2,1,2,2,1,0,0,0,0,22,3,4,3,2,1,0,0,0,0,0,0,0,0,0,0,0,0,0,0,0,0,0,0,0,0,1,2,3,1,0,0,0,0,0,0,0,0,0,0,0,0,0,0,0,0,1,4,7],
  [2,1,2,3,2,1,2,8,0,0,0,0,24,4,3,2,2,1,0,0,0,0,0,0,0,0,4,8.5,9.5,4,1,0,0,0,0,0,0,0,0,1,2,1,0,0,0,0,0,0,0,0,0,0,0,0,0,0,0,0,0,0,0],
  [1,2,1,2,1,2,1,1,0,0,0,0,16,3,2,3,2,1,0,0,0,0,0,0,0,0,0,0,0,0,0,0,0,0,0,0,1,3,2,1,1,0,0,0,0,0,0,0,0,0,0,0,0,0,0,1,12.5,4,1,0,0],
  [2,1,2,1,2,1,2,1,0,0,0,0,14,2,3,2,1,1,0,0,0,0,0,0,0,0,0,0,0,0,0,0,0,0,0,0,0,0,0,1,1,0,0,0,0,0,0,0,0,0,0,0,0,0,0,0,0,0,0,1,0],
  [3,9.5,2,3,2,1,2,1,0,0,0,0,18,3,4,3,2,1,0,0,0,0,0,0,0,0,0,0,0,0,0,0,0,0,0,0,0,0,1,2,3,1,0,0,0,0,0,0,0,0,0,0,0,0,0,0,0,1,0,1,0],
  [2,1,2,1,1,2,3,1,0,0,0,1,22,4,3,2,2,1,0,0,0,0,0,0,0,0,0,0,0,0,0,0,0,0,0,0,0,0,0,1,2,1,0,0,0,0,0,0,0,0,0,0,0,0,0,0,0,0,0,1,0],
  [3,2,3,2,1,2,3,2,0,0,0,1,30,5,3,4,2,1,1,0,0,0,0,0,0,0,0,0,0,0,0,0,0,0,0,0,0,0,1,2,3,2,1,0,0,0,0,0,0,0,0,0,0,0,0,2,5,8.5,6,3,2],
  [1,2,1,2,1,1,2,1,0,0,0,0,20,3,4,3,2,1,0,0,0,0,0,0,0,0,0,0,0,0,0,0,0,0,0,0,0,0,1,3,6,12,5,1,0,0,0,0,0,0,0,0,0,0,0,0,0,0,0,0,0],
  [2,1,2,1,2,1,1,1,0,0,0,0,16,2,3,2,1,1,0,0,0,0,0,0,0,0,0,0,0,0,0,0,0,0,0,0,0,0,0,1,2,0,0,0,0,1,12.5,3,0,0,0,0,0,0,0,0,0,0,0,0,0],
  [2,1,1,2,1,1,2,1,0,0,0,0,12,2,2,2,1,1,0,0,0,0,0,0,0,0,0,0,0,0,0,0,0,0,0,0,0,0,0,1,1,0,0,0,0,0,0,0,0,0,0,0,0,0,0,0,0,0,0,0,0],
  [2,3,2,1,2,3,2,1,0,0,0,1,32,5,4,3,2,1,1,0,0,0,0,0,0,0,0,0,0,0,0,0,0,0,0,0,0,0,1,2,4,2,1,0,0,0,0,0,0,0,0,0,0,0,0,0,0,1,2,1,0],
  [1,2,3,8,2,1,2,1,0,0,0,0,20,3,4,3,2,1,0,0,0,0,0,0,0,0,0,0,0,0,0,0,0,0,0,0,0,0,1,2,3,1,0,0,0,0,0,0,0,0,0,5.5,2,0,0,0,0,0,0,0,0],
  [2,1,2,1,2,2,1,1,0,0,0,0,18,3,3,2,2,1,0,0,0,0,0,0,0,0,0,0,0,0,0,0,0,0,0,0,0,0,0,1,2,1,0,0,0,0,0,0,0,0,0,0,0,0,0,0,0,0,0,1,0],
  [2,1,2,1,1,2,2,1,0,0,0,0,22,3,4,3,2,1,0,0,0,0,0,0,0,0,0,0,0,0,0,0,0,0,0,0,0,0,0,1,2,1,0,0,0,0,0,0,0,4.5,2,0,0,0,0,0,0,0,0,0,0],
  [1,2,1,2,1,2,2,1,0,0,0,14.5,55,6,3,2,2,1,0,0,0,0,0,0,0,0,0,0,0,0,0,0,0,0,0,0,0,0,0,1,2,1,0,0,0,0,0,0,0,0,0,0,0,0,0,0,0,0,0,0,0],
  [2,1,2,1,2,1,2,1,0,0,0,0,16,3,2,2,1,1,0,0,0,0,0,0,0,0,0,0,0,0,0,0,0,0,0,0,0,0,0,1,1,0,0,0,0,0,0,0,0,0,0,0,0,0,0,0,0,0,0,1,0],
  [2,1,2,1,2,1,2,1,0,0,0,0,28,4,3,2,2,1,0,0,0,0,0,0,0,0,0,0,0,0,0,0,0,0,0,0,0,0,0,1,2,1,0,0,0,0,0,0,0,0,0,0,0,0,0,0,1,4,11,18.5,10],
  [2,1,2,1,1,2,1,1,0,0,0,0,20,3,4,2,2,1,0,0,0,0,0,0,0,0,0,0,0,0,0,0,0,0,0,0,0,0,0,1,2,1,0,0,0,0,0,0,0,0,1,2,1,0,0,0,0,0,0,0,0],
  [2,1,2,1,2,1,2,1,0,0,0,0,60,5,3,2,1,1,0,0,0,0,0,0,0,0,0,0,0,0,0,0,0,0,0,0,0,0,0,1,2,1,0,0,0,0,0,0,0,0,0,0,0,0,0,0,0,0,0,0,0]
];

const MONO = '"DejaVu Sans Mono", "Liberation Mono", monospace';

function series(hours, values) {
  const out = [];
  values.forEach((v, i) => { if (hours[i] !== undefined) out.push({ x: hours[i], y: v }); });
  return out;
}

function mainLine(values, axis, color, width, order) {
  return { data: series(hours6, values), yAxisID: axis, borderColor: color, borderWidth: width,
    pointRadius: 0, order: order, borderJoinStyle: 'round' };
}

// lower order is drawn on top: mean, then oper, members, and control underneath
const datasets = [
  mainLine(t850Mean, 'y', '#ff0000', 5, 0),
  mainLine(t500Mean, 'y', '#ff0000', 5, 0),
  mainLine(precipMean, 'yr', '#ff0000', 5, 0),
  mainLine(t850Oper, 'y', '#000000', 3.5, 1),
  mainLine(t500Oper, 'y', '#000000', 3.5, 1),
  mainLine(precipOper, 'yr', '#000000', 3.5, 1),
  mainLine(t850Control, 'y', '#0000ff', 3, 4),
  mainLine(t500Control, 'y', '#0000ff', 3, 4),
  mainLine(precipControl, 'yr', '#0000ff', 3, 4)
];

memberColors.forEach((c, k) => {
  const style = { borderColor: c, borderWidth: 1, pointStyle: 'cross', pointRadius: 2,
    pointBorderColor: c, pointBorderWidth: 1, order: 3 };
  datasets.push(Object.assign({ data: series(memberHours, t850Perts[k]), yAxisID: 'y' }, style));
  datasets.push(Object.assign({ data: series(memberHours, t500Perts[k]), yAxisID: 'y' }, style));
  datasets.push(Object.assign({ data: series(hours6, precipPerts[k]), yAxisID: 'yr' }, style));
});

const decorations = {
  id: 'decorations',
  afterDraw(chart) {
    const ctx = chart.ctx;
    ctx.save();
    ctx.fillStyle = '#000';
    ctx.textBaseline = 'middle';
    ctx.font = '10px ' + MONO;
    ctx.fillText('Temp. 850hPa', 60, 87);
    ctx.fillText('Temp. 500hPa', 60, 287);
    ctx.fillText('Précipitations', 60, 437);
    ctx.fillText('(°C)', 20, 607);
    ctx.fillText('(mm)', 710, 607);

    // legend of the three main lines
    const legendLine = (x1, x2, y, color) => {
      ctx.strokeStyle = color; ctx.lineWidth = 4;
      ctx.beginPath(); ctx.moveTo(x1, y); ctx.lineTo(x2, y); ctx.stroke();
    };
    legendLine(35, 65, 637, '#ff0000');
    legendLine(225, 256, 637, '#0000ff');
    legendLine(225, 256, 647, '#000000');
    ctx.fillText('Moyenne des scénarios', 75, 637);
    ctx.fillText('Run de contrôle', 265, 637);
    ctx.fillText('Run CEP/ECMWF', 265, 647);
    ctx.fillText('50 Perts.', 370, 653);

    // member colour swatches
    const sw = 10.92;
    ctx.font = '9px ' + MONO;
    ctx.textAlign = 'center';
    for (let i = 0; i < 25; i++) {
      const x = 430 + i * sw;
      ctx.fillStyle = memberColors[i];
      ctx.fillRect(x, 645, sw, 6);
      ctx.fillStyle = memberColors[i + 25];
      ctx.fillRect(x, 651, sw, 6);
      ctx.fillStyle = '#000';
      ctx.fillText(String(i + 1).padStart(2, '0'), x + sw / 2, 640);
      ctx.fillText(String(i + 26), x + sw / 2, 662);
    }
    ctx.textAlign = 'left';

    // footer
    ctx.strokeStyle = '#000'; ctx.lineWidth = 1;
    ctx.strokeRect(20.5, 667.5, 420, 40);
    ctx.font = 'bold 11.5px ' + MONO;
    ctx.fillText('Diagramme ensembles ECMWF/CEP 0.25° sur 360h pour Strasbourg', 30, 677);
    ctx.fillText('Copyright 2024 Meteociel.fr - ECMWF', 450, 692);
    ctx.font = '10px ' + MONO;
    ctx.fillText('Températures 850hPa et 500hPa (°C) , précipitations (mm)', 30, 691);
    ctx.fillText('Ensemble ECMWF/CEP du 27/06/2024 - 00Z', 450, 676);
    ctx.restore();
  }
};

const tickFont = { family: MONO, size: 10 };

new Chart(document.getElementById('chart'), {
  type: 'line',
  data: { datasets },
  options: {
    responsive: false,
    animation: false,
    events: [],
    layout: { padding: { left: 20, top: 0, right: 0, bottom: 0 } },
    plugins: { legend: { display: false }, tooltip: { enabled: false }, title: { display: false } },
    scales: {
      x: {
        type: 'linear', min: 0, max: 360,
        afterBuildTicks: s => { s.ticks = dayHours.map(v => ({ value: v })); },
        afterFit: s => { s.height = 100; s.paddingLeft = 0; s.paddingRight = 0; },
        grid: { color: '#c0c0c0', lineWidth: 2, drawTicks: false },
        border: { display: true, color: '#000', width: 1 },
        ticks: { autoSkip: false, minRotation: 90, maxRotation: 90, labelOffset: 7, padding: 3,
          color: '#000', font: tickFont, callback: v => dayLabels[dayHours.indexOf(v)] }
      },
      y: {
        type: 'linear', position: 'left', min: -52.714, max: 33,
        afterBuildTicks: s => { s.ticks = leftTicks.map(v => ({ value: v })); },
        afterFit: s => { s.width = 30; s.paddingTop = 0; s.paddingBottom = 0; },
        grid: {
          color: c => (c.tick && c.tick.value === 0) ? '#8c8c8c' : '#c0c0c0',
          lineWidth: c => (c.tick && c.tick.value % 10 === 0) ? 3 : 2,
          drawTicks: false
        },
        border: { display: false },
        ticks: { crossAlign: 'far', padding: 0, color: '#000', font: tickFont }
      },
      yr: {
        type: 'linear', position: 'right', min: -7.714, max: 78,
        afterBuildTicks: s => { s.ticks = rightTicks.map(v => ({ value: v })); },
        afterFit: s => { s.width = 50; s.paddingTop = 0; s.paddingBottom = 0; },
        grid: { display: false, drawTicks: false },
        border: { display: false },
        ticks: { crossAlign: 'near', padding: 19, color: '#000', font: tickFont }
      }
    }
  },
  plugins: [decorations]
});
</script>
</body>
</html>
